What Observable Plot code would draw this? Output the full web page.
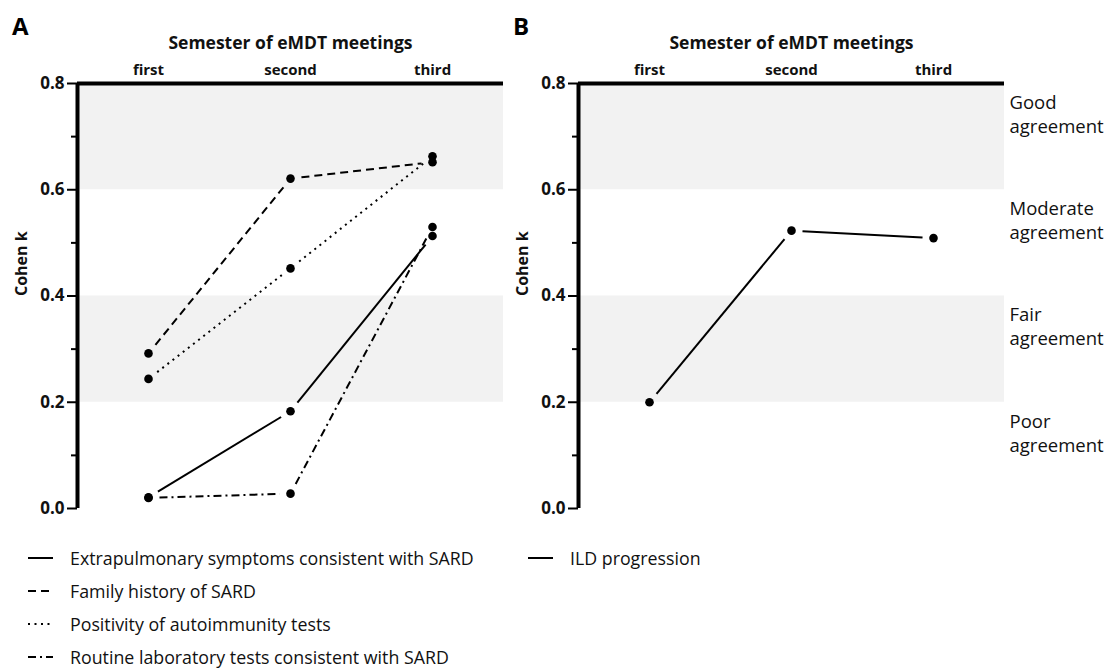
<!DOCTYPE html>
<html><head><meta charset="utf-8">
<script src="https://cdn.jsdelivr.net/npm/d3@7"></script>
<script src="https://cdn.jsdelivr.net/npm/@observablehq/plot@0.6"></script>
<style>
body{margin:0;background:#fff;font-family:"Open Sans",sans-serif;color:#111;}
#root{position:relative;width:1105px;height:668px;overflow:hidden;}
.panel{position:absolute;top:0;}
.panel svg{overflow:visible;}
.letter{position:absolute;font-weight:bold;font-size:24px;line-height:24px;color:#000;}
.legend{position:absolute;font-size:17.8px;color:#111;}
.legend .item{display:flex;align-items:center;height:33px;white-space:nowrap;}
.legend svg{margin-right:16px;flex:none;}
</style></head><body><div id="root"></div>
<script>
// ---------- data ----------
const semesters = ["first", "second", "third"];
const axisTitle = "Semester of eMDT meetings";
const yLabel = "Cohen k";
const yTicks = [0, 0.2, 0.4, 0.6, 0.8];
const yMinorTicks = [0.1, 0.3, 0.5, 0.7];
const bandLow = [0.2, 0.6];
const bandHigh = [0.4, 0.8];

const seriesNamesA = [
  "Extrapulmonary symptoms consistent with SARD",
  "Family history of SARD",
  "Positivity of autoimmunity tests",
  "Routine laboratory tests consistent with SARD"
];
const extrapulmonary = [0.021, 0.183, 0.513];
const familyHistory  = [0.292, 0.621, 0.652];
const autoimmunity   = [0.244, 0.452, 0.663];
const routineLab     = [0.020, 0.028, 0.530];

const seriesNamesB = ["ILD progression"];
const ildProgression = [0.200, 0.523, 0.509];

const agreementLabels = ["Good\nagreement", "Moderate\nagreement", "Fair\nagreement", "Poor\nagreement"];
const agreementY = [0.744, 0.544, 0.344, 0.144];

// ---------- styles ----------
const dashStyles = [null, "8,5", "2,4.5", "8,4,2,4"];
const FONT = "Open Sans";
const xDomain = [0.5, semesters.length + 0.5];
const yDomain = [0, 0.8];

function segments(vals) {
  return vals.slice(0, -1).map((v, i) => ({x1: i + 1, y1: v, x2: i + 2, y2: vals[i + 1]}));
}
function points(vals) {
  return vals.map((v, i) => ({x: i + 1, y: v}));
}

function panel(seriesVals, withAgreement) {
  const bands = bandLow.map((lo, i) => ({lo, hi: bandHigh[i]}));
  const marks = [
    Plot.rect(bands, {y1: "lo", y2: "hi", fill: "#f2f2f2"}),
    Plot.ruleY([yDomain[1]], {stroke: "black", strokeWidth: 4}),
    Plot.ruleX([xDomain[0]], {stroke: "black", strokeWidth: 4}),
    Plot.axisY({ticks: yTicks, tickFormat: d3.format(".1f"), tickSize: 10, tickPadding: 3,
      stroke: "black", strokeWidth: 2, fontSize: 17, fontWeight: "bold", fill: "#111", label: null}),
    Plot.axisY({ticks: yMinorTicks, tickFormat: () => "", tickSize: 6, stroke: "black", strokeWidth: 2, label: null}),
    Plot.axisX({anchor: "top", ticks: [1, 2, 3], tickFormat: d => semesters[d - 1], tickSize: 0,
      tickPadding: 9, fontSize: 15, fontWeight: "bold", fill: "#111", label: null}),
    Plot.text([axisTitle], {text: d => d, frameAnchor: "top", lineAnchor: "bottom", dy: -35,
      fontSize: 17.5, fontWeight: "bold", fill: "#111"}),
    Plot.text([yLabel], {text: d => d, frameAnchor: "left", dx: -56, rotate: -90,
      fontSize: 16, fontWeight: "bold", fill: "#111"})
  ];
  seriesVals.forEach((vals, k) => {
    marks.push(Plot.arrow(segments(vals), {
      x1: "x1", y1: "y1", x2: "x2", y2: "y2", headLength: 0, inset: 11,
      stroke: "black", strokeWidth: 2, strokeLinecap: "butt",
      strokeDasharray: dashStyles[k] || undefined
    }));
  });
  seriesVals.forEach(vals => {
    marks.push(Plot.dot(points(vals), {x: "x", y: "y", r: 4.3, fill: "black", stroke: "none"}));
  });
  if (withAgreement) {
    marks.push(Plot.text(agreementLabels, {
      text: d => d, frameAnchor: "right", y: (d, i) => agreementY[i],
      textAnchor: "start", lineAnchor: "middle", dx: 5, lineHeight: 1.3,
      fontSize: 18.5, fill: "#111"
    }));
  }
  return Plot.plot({
    width: withAgreement ? 604 : 505,
    height: 520,
    marginLeft: 77,
    marginRight: withAgreement ? 101 : 2,
    marginTop: 83,
    marginBottom: 12,
    style: {fontFamily: FONT, background: "transparent", overflow: "visible"},
    x: {type: "linear", domain: xDomain, axis: null},
    y: {domain: yDomain, axis: null},
    marks
  });
}

function legend(names, left, top) {
  const div = document.createElement("div");
  div.className = "legend";
  div.style.left = left + "px";
  div.style.top = top + "px";
  names.forEach((name, k) => {
    const item = document.createElement("div");
    item.className = "item";
    const dash = dashStyles[k] ? ` stroke-dasharray="${dashStyles[k]}"` : "";
    item.innerHTML = `<svg width="26" height="10"><line x1="0" y1="5" x2="25" y2="5" stroke="black" stroke-width="2"${dash}/></svg><span>${name}</span>`;
    div.appendChild(item);
  });
  return div;
}

const root = document.getElementById("root");

const pA = panel([extrapulmonary, familyHistory, autoimmunity, routineLab], false);
const wA = document.createElement("div"); wA.className = "panel"; wA.style.left = "0px";
wA.appendChild(pA); root.appendChild(wA);

const pB = panel([ildProgression], true);
const wB = document.createElement("div"); wB.className = "panel"; wB.style.left = "501px";
wB.appendChild(pB); root.appendChild(wB);

const la = document.createElement("div"); la.className = "letter"; la.textContent = "A";
la.style.left = "12px"; la.style.top = "14px"; root.appendChild(la);
const lb = document.createElement("div"); lb.className = "letter"; lb.textContent = "B";
lb.style.left = "513px"; lb.style.top = "14px"; root.appendChild(lb);

root.appendChild(legend(seriesNamesA, 28, 541));
root.appendChild(legend(seriesNamesB, 528, 541));
</script>
</body></html>
